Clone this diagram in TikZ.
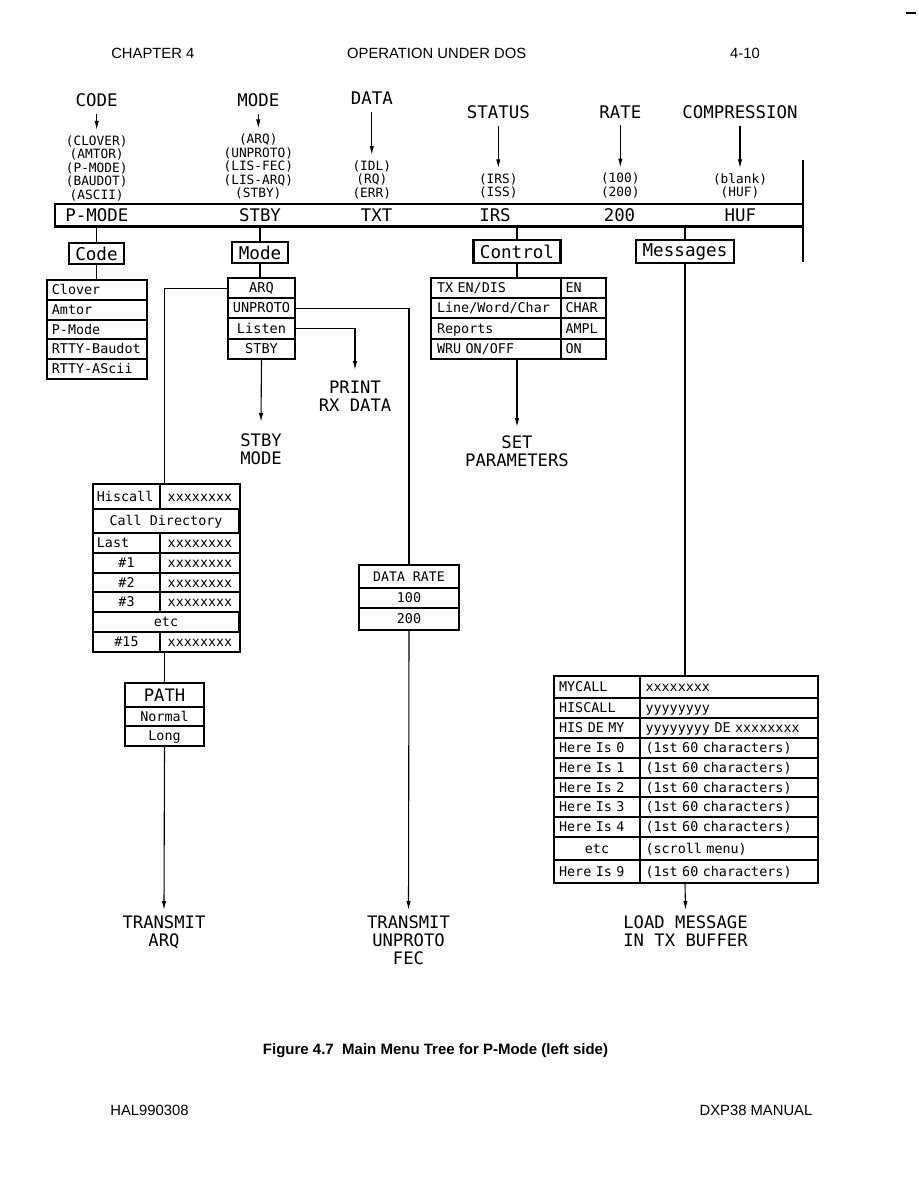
\documentclass[tikz,border=0pt]{standalone}
\usepackage{fontspec}
\setmainfont{Liberation Sans}
\newfontfamily\cadfont{DejaVu Sans Mono}
\usetikzlibrary{positioning, arrows.meta}
\tikzset{
  boxline/.style={line width=1.3pt},
  wire/.style={line width=0.55pt},
  flow/.style={-{Latex[length=4.5pt, width=2.2pt]}, line width=0.55pt},
  cell/.style={draw, line width=0.5pt, inner sep=0pt, minimum height=9.4pt,
               text height=4.9pt, text depth=0.3pt,
               font=\cadfont\fontsize{6.7}{7}\selectfont},
  lcell/.style={cell, align=left, inner xsep=3pt}
}

\begin{document}
\begin{tikzpicture}[x=0.5pt, y=-0.5pt,
  pagetext/.style={font=\fontsize{7.4}{9}\selectfont, inner sep=0pt},
  head/.style={font=\cadfont\fontsize{8.7}{10}\selectfont, inner sep=3.5pt},
  opts/.style={font=\cadfont\fontsize{6.4}{6.75}\selectfont, align=center, inner sep=2.5pt, anchor=north},
  barlbl/.style={font=\cadfont\fontsize{8.7}{10}\selectfont, inner sep=0pt},
  menu/.style={draw, boxline, inner sep=0pt, font=\cadfont\fontsize{8.8}{10}\selectfont},
  result/.style={font=\cadfont\fontsize{8.6}{9}\selectfont, align=center, inner sep=2.5pt, anchor=north},
  codecell/.style={lcell, text width=45pt, inner xsep=2.2pt},
  modecell/.style={cell, minimum width=33pt, minimum height=9.6pt, font=\cadfont\fontsize{6.8}{7}\selectfont},
  ctlkey/.style={lcell, text width=59pt, inner xsep=2.75pt, minimum height=9.6pt},
  ctlval/.style={lcell, text width=18pt, inner xsep=2pt, minimum height=9.6pt},
  dirkey/.style={lcell, text width=29.6pt, inner xsep=1.7pt},
  dirnum/.style={cell, minimum width=33pt},
  dirval/.style={cell, minimum width=39.5pt},
  dirspan/.style={cell, minimum width=72.5pt},
  pathcell/.style={cell, minimum width=39pt},
  ratecell/.style={cell, minimum width=49.5pt},
  mkey/.style={lcell, text width=37.9pt, inner xsep=2.3pt},
  mval/.style={lcell, text width=83.5pt, inner xsep=2.5pt}
]
\useasboundingbox[fill=white] (0,0) rectangle (918,1188);

% page header and footer
\node[pagetext] (chap) at (152.8,53) {CHAPTER 4};
\node[pagetext] (title) at (436.7,53) {OPERATION UNDER DOS};
\node[pagetext] (pageno) at (745,53) {4-10};
\coordinate (dashl) at (906,13);
\coordinate (dashr) at (916,13);
\draw[line width=0.8pt] (dashl) -- (dashr);

% status line fields
\node[head] (hcode) at (96.7,100.5) {CODE};
\node[head] (hmode) at (258.3,100.5) {MODE};
\node[head] (hdata) at (371.8,98.3) {DATA};
\node[head] (hstat) at (498.3,111.7) {STATUS};
\node[head] (hrate) at (620.3,111.7) {RATE};
\node[head] (hcomp) at (740,111.7) {COMPRESSION};

\node[opts] (ocode) at (96.7,130) {(CLOVER)\\(AMTOR)\\(P-MODE)\\(BAUDOT)\\(ASCII)};
\node[opts] (omode) at (258.3,128.5) {(ARQ)\\(UNPROTO)\\(LIS-FEC)\\(LIS-ARQ)\\(STBY)};
\node[opts] (odata) at (371.8,155) {(IDL)\\(RQ)\\(ERR)};
\node[opts] (ostat) at (498.3,168.3) {(IRS)\\(ISS)};
\node[opts] (orate) at (620.3,167.5) {(100)\\(200)};
\node[opts] (ocomp) at (740,168.3) {(blank)\\(HUF)};

\draw[flow] (hcode.south) -- (ocode.north);
\draw[flow] (hmode.south) -- (omode.north);
\draw[flow] (hdata.south) -- (odata.north);
\draw[flow] (hstat.south) -- (ostat.north);
\draw[flow] (hrate.south) -- (orate.north);
\draw[flow] (hcomp.south) -- (ocomp.north);

% the status bar
\node[minimum width=374pt, minimum height=11pt, inner sep=0pt] (bar) at (429,215) {};
\draw[line width=1.1pt] (bar.north east) -- (bar.north west) -- (bar.south west) -- (bar.south east);
\coordinate (edgetop) at (803,160);
\coordinate (edgebot) at (803,262);
\draw[line width=0.6pt] (edgetop) -- (edgebot);

\node[barlbl, anchor=west] (vcode) at (65,215.5) {P-MODE};
\node[barlbl] (vmode) at (260,215.5) {STBY};
\node[barlbl] (vdata) at (376.7,215.5) {TXT};
\node[barlbl] (vstat) at (495,215.5) {IRS};
\node[barlbl] (vrate) at (619.5,215.5) {200};
\node[barlbl] (vcomp) at (740.3,215.5) {HUF};

% menu headings
\node[menu, minimum width=27.5pt, minimum height=10.5pt] (code) at (96.5,253.5) {Code};
\node[menu, minimum width=28pt, minimum height=10.5pt] (mode) at (260,252.5) {Mode};
\node[menu, minimum width=43.5pt, minimum height=11.5pt] (ctrl) at (517,251.5) {Control};
\node[menu, minimum width=49pt, minimum height=11.5pt] (msgs) at (685,251.5) {Messages};

\draw[wire] (code.north |- bar.south) -- (code.north);
\draw[wire] (mode.north |- bar.south) -- (mode.north);
\draw[wire] (ctrl.north |- bar.south) -- (ctrl.north);
\draw[wire] (msgs.north |- bar.south) -- (msgs.north);

% code list
\node[codecell, anchor=north west] (clover) at (47,280) {Clover};
\node[codecell, below=0pt of clover] (amtor) {Amtor};
\node[codecell, below=0pt of amtor] (pmode) {P-Mode};
\node[codecell, below=0pt of pmode] (baudot) {RTTY-Baudot};
\node[codecell, below=0pt of baudot] (ascii) {RTTY-AScii};
\draw[boxline] (clover.north west) rectangle (ascii.south east);
\draw[wire] (code.south) -- (code.south |- clover.north);

% mode list
\node[modecell, anchor=north west] (arq) at (228,278) {ARQ};
\node[modecell, below=0pt of arq] (unproto) {UNPROTO};
\node[modecell, below=0pt of unproto] (listen) {Listen};
\node[modecell, below=0pt of listen] (stby) {STBY};
\draw[boxline] (arq.north west) rectangle (stby.south east);
\draw[wire] (mode.south) -- (mode.south |- arq.north);

\node[result, inner ysep=5.5pt] (print) at (355,370) {PRINT\\RX DATA};
\node[result, inner ysep=5.5pt] (stbymode) at (261,422) {STBY\\MODE};
\draw[flow] (listen.east) -| (print.north);
\draw[flow] (stby.south) -- (stbymode.north);

% control table
\node[ctlkey, anchor=north west] (txen) at (431,278) {TX EN/DIS};
\node[ctlval, right=0pt of txen] (txenv) {EN};
\node[ctlkey, below=0pt of txen] (lwc) {Line/Word/Char};
\node[ctlval, right=0pt of lwc] (lwcv) {CHAR};
\node[ctlkey, below=0pt of lwc] (reports) {Reports};
\node[ctlval, right=0pt of reports] (reportsv) {AMPL};
\node[ctlkey, below=0pt of reports] (wru) {WRU ON/OFF};
\node[ctlval, right=0pt of wru] (wruv) {ON};
\draw[boxline] (txen.north west) rectangle (wruv.south east);
\draw[wire] (ctrl.south) -- (ctrl.south |- txen.north);

\node[result, inner ysep=4pt] (setpar) at (517,427) {SET\\PARAMETERS};
\draw[flow] (setpar.north |- wru.south) -- (setpar.north);

% call directory
\node[dirkey, minimum height=12pt, anchor=north west] (hiscall) at (93,484) {Hiscall};
\node[dirval, minimum height=12pt, right=0pt of hiscall] (hiscallv) {xxxxxxxx};
\node[dirspan, minimum height=11.5pt, anchor=north west] (calldir) at (hiscall.south west) {Call Directory};
\node[dirkey, anchor=north west] (last) at (calldir.south west) {Last};
\node[dirval, right=0pt of last] (lastv) {xxxxxxxx};
\node[dirnum, below=0pt of last] (no1) {\#1};
\node[dirval, right=0pt of no1] (no1v) {xxxxxxxx};
\node[dirnum, below=0pt of no1] (no2) {\#2};
\node[dirval, right=0pt of no2] (no2v) {xxxxxxxx};
\node[dirnum, below=0pt of no2] (no3) {\#3};
\node[dirval, right=0pt of no3] (no3v) {xxxxxxxx};
\node[dirspan, anchor=north west] (diretc) at (no3.south west) {etc};
\node[dirnum, anchor=north west] (no15) at (diretc.south west) {\#15};
\node[dirval, right=0pt of no15] (no15v) {xxxxxxxx};
\draw[boxline] (hiscall.north west) rectangle (no15v.south east);

% path
\node[pathcell, minimum height=11.5pt, text height=6.3pt, anchor=north west,
      font=\cadfont\fontsize{8.6}{9}\selectfont] (path) at (125,683) {PATH};
\node[pathcell, minimum height=9pt, below=0pt of path] (normal) {Normal};
\node[pathcell, minimum height=9.5pt, below=0pt of normal] (long) {Long};
\draw[boxline] (path.north west) rectangle (long.south east);

\draw[wire] (arq.west) -| (path.north |- hiscall.north);
\draw[wire] (path.north |- no15.south) -- (path.north);
\node[result] (txarq) at (164,910) {TRANSMIT\\ARQ};
\draw[flow] (long.south) -- (txarq.north);

% data rate
\node[ratecell, minimum height=11pt, anchor=north west,
      font=\cadfont\fontsize{6.6}{7}\selectfont] (rate) at (359,565) {DATA RATE};
\node[ratecell, minimum height=9.5pt, below=0pt of rate] (r100) {100};
\node[ratecell, minimum height=10.5pt, below=0pt of r100] (r200) {200};
\draw[boxline] (rate.north west) rectangle (r200.south east);

\draw[wire] (unproto.east) -| (rate.north);
\node[result] (txfec) at (408.5,910) {TRANSMIT\\UNPROTO\\FEC};
\draw[flow] (r200.south) -- (txfec.north);

% messages table
\node[mkey, minimum height=10.5pt, anchor=north west] (mycall) at (554,676) {MYCALL};
\node[mval, minimum height=10.5pt, right=0pt of mycall] (mycallv) {xxxxxxxx};
\node[mkey, minimum height=9.5pt, below=0pt of mycall] (hiscl) {HISCALL};
\node[mval, minimum height=9.5pt, right=0pt of hiscl] (hisclv) {yyyyyyyy};
\node[mkey, minimum height=9.5pt, below=0pt of hiscl] (here) {HIS DE MY};
\node[mval, minimum height=9.5pt, right=0pt of here] (herev) {yyyyyyyy DE xxxxxxxx};
\foreach \i/\prev in {0/here, 1/here0, 2/here1, 3/here2, 4/here3} {
  \node[mkey, below=0pt of \prev] (here\i) {Here Is \i};
  \node[mval, right=0pt of here\i] (here\i v) {(1st 60 characters)};
}
\node[cell, minimum width=42.5pt, minimum height=11pt, below=0pt of here4] (metc) {etc};
\node[mval, minimum height=11pt, right=0pt of metc] (metcv) {(scroll menu)};
\node[mkey, minimum height=11pt, below=0pt of metc] (here9) {Here Is 9};
\node[mval, minimum height=11pt, right=0pt of here9] (here9v) {(1st 60 characters)};
\draw[boxline] (mycall.north west) rectangle (here9v.south east);

\draw[wire] (msgs.south) -- (msgs.south |- mycall.north);
\node[result] (load) at (685.5,910) {LOAD MESSAGE\\IN TX BUFFER};
\draw[flow] (msgs.south |- here9.south) -- (load.north);

% caption and footer
\node[pagetext, font=\bfseries\fontsize{7.5}{9}\selectfont] (caption) at (435.5,1051)
  {Figure 4.7\ \ Main Menu Tree for P-Mode (left side)};
\node[pagetext] (docid) at (149.5,1110) {HAL990308};
\node[pagetext] (manual) at (756,1110) {DXP38 MANUAL};
\end{tikzpicture}
\end{document}
